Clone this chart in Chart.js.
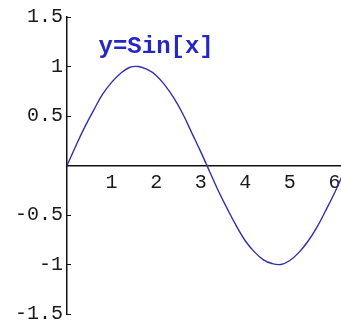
<!DOCTYPE html>
<html>
<head>
<meta charset="utf-8">
<script src="https://cdn.jsdelivr.net/npm/chart.js@4/dist/chart.umd.min.js"></script>
<style>
  html, body { margin: 0; padding: 0; background: #ffffff; overflow: hidden; }
  #wrap { width: 341px; height: 324px; overflow: hidden; }
  canvas { display: block; }
</style>
</head>
<body>
<div id="wrap"><canvas id="c" width="360" height="324"></canvas></div>
<script>
// Sampled points of the curve
const xValues = [0, 0.2, 0.4, 0.6, 0.8, 1.0, 1.2, 1.4, 1.6, 1.8, 2.0, 2.2, 2.4, 2.6, 2.8, 3.0,
                 3.2, 3.4, 3.6, 3.8, 4.0, 4.2, 4.4, 4.6, 4.8, 5.0, 5.2, 5.4, 5.6, 5.8, 6.0, 6.2, 6.28];
const yValues = [0, 0.20, 0.39, 0.56, 0.72, 0.84, 0.93, 0.99, 1.00, 0.97, 0.91, 0.81, 0.68, 0.52, 0.33, 0.14,
                 -0.06, -0.26, -0.44, -0.61, -0.76, -0.87, -0.95, -0.99, -1.00, -0.96, -0.88, -0.77, -0.63, -0.46, -0.28, -0.08, 0];

const xTicks = [1, 2, 3, 4, 5, 6];
const yTicks = [-1.5, -1, -0.5, 0.5, 1, 1.5];

const plotLabel = 'y=Sin[x]';
const labelAt = { x: 2, y: 1.2 };

const points = xValues.map((x, i) => ({ x: x, y: yValues[i] }));

const labelPlugin = {
  id: 'plotLabel',
  afterDatasetsDraw(chart) {
    const ctx = chart.ctx;
    const px = chart.scales.x.getPixelForValue(labelAt.x);
    const py = chart.scales.y.getPixelForValue(labelAt.y);
    ctx.save();
    ctx.font = 'bold 24px "Liberation Mono", monospace';
    ctx.fillStyle = '#2626c4';
    ctx.textAlign = 'center';
    ctx.textBaseline = 'middle';
    ctx.fillText(plotLabel, px, py);
    ctx.restore();
  }
};

const tickFont = { family: '"Liberation Mono", monospace', size: 20 };

new Chart(document.getElementById('c'), {
  type: 'scatter',
  data: {
    datasets: [{
      data: points,
      showLine: true,
      borderColor: '#3030a8',
      borderWidth: 1.4,
      pointRadius: 0,
      tension: 0.4,
      fill: false
    }]
  },
  options: {
    responsive: false,
    animation: false,
    layout: { padding: { left: 0, top: 17, right: 13, bottom: 10 } },
    plugins: { legend: { display: false }, tooltip: { enabled: false } },
    scales: {
      x: {
        type: 'linear',
        position: { y: 0 },
        min: 0,
        max: 2 * Math.PI,
        afterBuildTicks: (scale) => { scale.ticks = xTicks.map(v => ({ value: v })); },
        afterFit: (scale) => { scale.height = 0; scale.paddingLeft = 0; scale.paddingRight = 0; },
        grid: { display: true, drawOnChartArea: false, drawTicks: true, tickLength: 0, color: '#000' },
        border: { display: true, color: '#111', width: 1.5 },
        ticks: { color: '#1a1a1a', font: tickFont, padding: 5, maxRotation: 0, callback: (v) => String(v) }
      },
      y: {
        type: 'linear',
        position: 'left',
        min: -1.5,
        max: 1.5,
        afterBuildTicks: (scale) => { scale.ticks = yTicks.map(v => ({ value: v })); },
        afterFit: (scale) => { scale.width = 67; scale.paddingTop = 0; scale.paddingBottom = 0; },
        grid: { display: true, drawOnChartArea: false, drawTicks: true, tickLength: -4, color: '#111' },
        border: { display: true, color: '#111', width: 1.5 },
        ticks: { color: '#1a1a1a', font: tickFont, padding: 8, callback: (v) => String(v) }
      }
    }
  },
  plugins: [labelPlugin]
});
</script>
</body>
</html>
